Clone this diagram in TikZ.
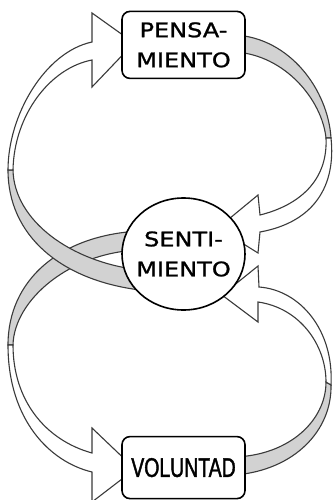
\documentclass[tikz,border=0pt]{standalone}
\usepackage{fontspec}
\usepackage{tikz}
\usetikzlibrary{positioning,shapes.geometric}
\newfontfamily\ideafont{DejaVu Sans}[FakeStretch=1.2, FakeBold=1.2]
\newfontfamily\willfont{Liberation Sans}[FakeStretch=0.72, FakeBold=1.5]
\definecolor{ribbongray}{HTML}{D2D2D2}
\definecolor{ribbonline}{HTML}{3A3A3A}
\tikzset{
  ribbon/.style={draw=ribbonline, line width=1.1pt, fill=white},
  ribbonback/.style={ribbon, fill=ribbongray},
  ideatext/.style={font=\ideafont\fontsize{20}{30}\selectfont, align=center},
  ideabox/.style={draw, line width=1.6pt, rounded corners=8pt, fill=white, minimum width=123pt, ideatext},
}

\begin{document}
\begin{tikzpicture}[x=1pt, y=-1pt]
        \useasboundingbox (0,0) rectangle (332,500);
        \path[ribbonback] (8,345) .. controls (8,280) and (60,235) .. (140,231) -- (140,250) .. controls (70,252) and (14,300) .. (13,345) -- cycle;
        \path[ribbon] (8,345) .. controls (8,420) and (50,462) .. (92,472) -- (92,502) -- (135,469) -- (92,428) -- (92,453) .. controls (45,440) and (13,400) .. (13,345) -- cycle;
        \path[ribbonback] (8,170) .. controls (8,235) and (60,280) .. (140,290) -- (140,270) .. controls (70,262) and (14,220) .. (13,170) -- cycle;
        \path[ribbon] (8,170) .. controls (8,115) and (45,52) .. (92,42) -- (92,13) -- (134,43) -- (92,87) -- (92,60) .. controls (50,68) and (14,115) .. (13,170) -- cycle;
        \path[ribbonback] (235,35) .. controls (290,38) and (328,90) .. (331,138) -- (326,138) .. controls (322,100) and (285,55) .. (235,52) -- cycle;
        \path[ribbon] (331,138) .. controls (336,185) and (315,222) .. (260,232) -- (258,253) -- (218,228) -- (258,195) -- (260,215) .. controls (300,205) and (328,180) .. (326,138) -- cycle;
        \path[ribbonback] (235,457) .. controls (290,455) and (326,420) .. (326,382) -- (331,385) .. controls (332,430) and (295,470) .. (235,475) -- cycle;
        \path[ribbon] (331,385) .. controls (334,330) and (300,290) .. (259,287) -- (258,266) -- (222,295) -- (258,322) -- (258,302) .. controls (300,308) and (326,345) .. (326,382) -- cycle;
        \node[ellipse, draw, line width=1.6pt, fill=white, minimum width=123pt, minimum height=112pt, inner xsep=-12pt, inner ysep=0pt, ideatext] (senti) at (183.5,254) {SENTI-\\MIENTO};
        \node[ideabox, minimum height=67pt, above=118pt of senti] (pensa) {PENSA-\\MIENTO};
        \node[ideabox, minimum height=62pt, below=125pt of senti, font=\willfont\fontsize{27}{30}\selectfont] (voluntad) {VOLUNTAD};
\end{tikzpicture}
\end{document}
